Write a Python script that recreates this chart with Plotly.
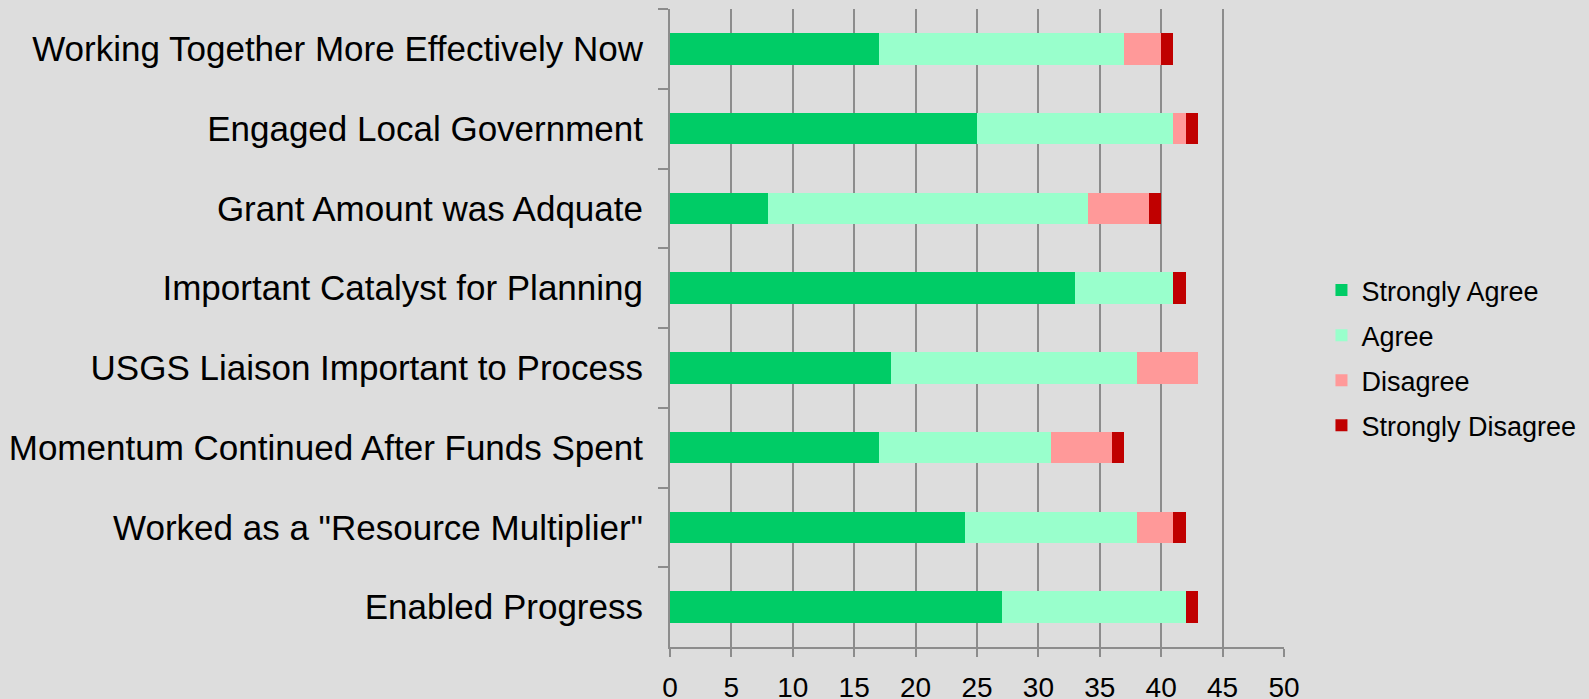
import plotly.graph_objects as go

categories = [
    "Working Together More Effectively Now",
    "Engaged Local Government",
    "Grant Amount was Adquate",
    "Important Catalyst for Planning",
    "USGS Liaison Important to Process",
    "Momentum Continued After Funds Spent",
    'Worked as a "Resource Multiplier"',
    "Enabled Progress",
]
strongly_agree = [17, 25, 8, 33, 18, 17, 24, 27]
agree = [20, 16, 26, 8, 20, 14, 14, 15]
disagree = [3, 1, 5, 0, 5, 5, 3, 0]
strongly_disagree = [1, 1, 1, 1, 0, 1, 1, 1]
x_ticks = [0, 5, 10, 15, 20, 25, 30, 35, 40, 45, 50]

series = [
    ("Strongly Agree", strongly_agree, "#00CC66"),
    ("Agree", agree, "#99FFCC"),
    ("Disagree", disagree, "#FF9999"),
    ("Strongly Disagree", strongly_disagree, "#C00000"),
]

FONT = "Liberation Sans, Arial, sans-serif"
GRID = "#8C8C8C"
fig = go.Figure()
for name, vals, color in series:
    fig.add_trace(go.Bar(
        y=categories, x=vals, name=name, orientation="h",
        marker=dict(color=color, line=dict(width=0)),
        legendgroup=name,
    ))

fig.update_layout(
    width=1589, height=699,
    barmode="stack", bargap=0.605,
    paper_bgcolor="#DDDDDD", plot_bgcolor="#DDDDDD",
    margin=dict(l=670, r=305, t=9, b=52, autoexpand=False),
    font=dict(family=FONT, color="#000000"),
    legend=dict(
        x=1.061, y=0.453, yanchor="middle", xanchor="left",
        font=dict(size=27, family=FONT), traceorder="grouped",
        tracegroupgap=7, bgcolor="rgba(0,0,0,0)",
    ),
    showlegend=True,
)
fig.update_xaxes(
    range=[0, 50], tickvals=x_ticks, ticktext=[str(v) for v in x_ticks],
    showgrid=True, gridcolor=GRID, gridwidth=2,
    showline=True, linecolor=GRID, linewidth=2,
    ticks="outside", ticklen=8, tickcolor=GRID, tickwidth=2,
    tickfont=dict(size=28, family=FONT), ticklabelstandoff=6,
    zeroline=False, fixedrange=True, automargin=False,
)
fig.update_yaxes(
    categoryorder="array", categoryarray=categories, autorange="reversed",
    showgrid=False, showline=True, linecolor=GRID, linewidth=2,
    ticks="outside", ticklen=10, tickcolor=GRID, tickwidth=2,
    tickson="boundaries",
    tickfont=dict(size=35, family=FONT), ticklabelstandoff=18,
    fixedrange=True, automargin=False,
)
fig.write_html(
    "out.html",
    config={"displayModeBar": False},
    post_script="document.body.style.margin='0';document.body.style.overflow='hidden';",
)
